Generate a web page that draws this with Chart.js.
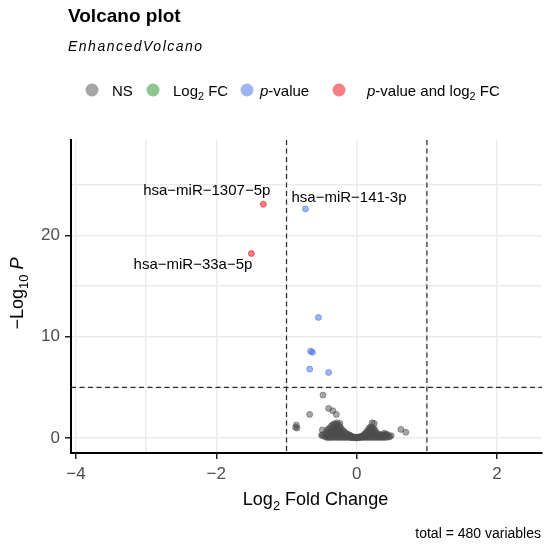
<!DOCTYPE html>
<html>
<head>
<meta charset="utf-8">
<title>Volcano plot</title>
<script src="https://cdn.jsdelivr.net/npm/chart.js@4.4.0/dist/chart.umd.min.js"></script>
<style>
  html, body { margin: 0; padding: 0; background: #fff; }
  canvas { display: block; }
</style>
</head>
<body>
<canvas id="volcano" width="550" height="545"></canvas>
<script>
// values
const xBreaks = [-4, -3, -2, -1, 0, 1, 2];
const xTickLabels = [-4, -2, 0, 2];
const yBreaks = [0, 5, 10, 15, 20, 25];
const yTickLabels = [0, 10, 20];
const fcCutoff = 1;
const pCutoff = 5;
const totalVariables = 480;

const bothNames = ['hsa−miR−1307−5p', 'hsa−miR−33a−5p'];
const bothFC = [-1.33, -1.50];
const bothP = [23.05, 18.2];

const pvalNames = ['hsa−miR−141-3p', '', '', '', '', ''];
const pvalFC = [-0.73, -0.545, -0.657, -0.63, -0.67, -0.40];
const pvalP = [22.6, 11.9, 8.57, 8.45, 6.8, 6.47];

const fcOnlyFC = [];
const fcOnlyP = [];

// [log2FC, -log10 p]
const nsPoints = [
  [-0.48, 4.24], [-0.40, 2.92], [-0.34, 2.69], [-0.29, 2.33], [-0.67, 2.33],
  [-0.86, 1.28], [-0.87, 1.05], [-0.85, 0.98], [-0.24, 1.44], [-0.32, 1.10],
  [0.25, 1.44], [0.22, 1.50], [0.63, 0.85], [0.70, 0.56], [-0.50, 0.26],
  [-0.49, 0.30], [-0.47, 0.20], [-0.49, 0.79], [-0.42, 0.79], [0.39, 0.46],
  [0.42, 0.40], [0.44, 0.30], [0.49, 0.23], [0.47, 0.15], [-0.37, 0.13],
  [-0.44, 0.10], [-0.44, 0.30], [-0.44, 0.55],
  [-0.42, 0.05], [-0.42, 0.20], [-0.42, 0.40],
  [-0.40, 0.08], [-0.40, 0.25], [-0.40, 0.60], [-0.40, 0.90],
  [-0.38, 0.05], [-0.38, 0.30], [-0.38, 0.50], [-0.38, 1.00],
  [-0.36, 0.10], [-0.36, 0.40], [-0.36, 0.70], [-0.36, 1.20],
  [-0.34, 0.05], [-0.34, 0.20], [-0.34, 0.45], [-0.34, 0.80], [-0.34, 1.30],
  [-0.32, 0.10], [-0.32, 0.35], [-0.32, 0.60], [-0.32, 0.95], [-0.32, 1.40],
  [-0.30, 0.05], [-0.30, 0.25], [-0.30, 0.50], [-0.30, 0.75], [-0.30, 1.05], [-0.30, 1.35],
  [-0.28, 0.10], [-0.28, 0.30], [-0.28, 0.55], [-0.28, 0.85], [-0.28, 1.20], [-0.28, 1.50],
  [-0.26, 0.05], [-0.26, 0.20], [-0.26, 0.45], [-0.26, 0.70], [-0.26, 1.00], [-0.26, 1.30],
  [-0.24, 0.10], [-0.24, 0.30], [-0.24, 0.55], [-0.24, 0.80], [-0.24, 1.10],
  [-0.22, 0.05], [-0.22, 0.25], [-0.22, 0.45], [-0.22, 0.70], [-0.22, 0.95],
  [-0.20, 0.10], [-0.20, 0.30], [-0.20, 0.50], [-0.20, 0.75],
  [-0.18, 0.05], [-0.18, 0.20], [-0.18, 0.40], [-0.18, 0.65],
  [-0.16, 0.10], [-0.16, 0.30], [-0.16, 0.50],
  [-0.14, 0.05], [-0.14, 0.20], [-0.14, 0.40],
  [-0.12, 0.10], [-0.12, 0.25], [-0.12, 0.35],
  [-0.10, 0.05], [-0.10, 0.15], [-0.10, 0.30],
  [-0.08, 0.05], [-0.08, 0.20],
  [-0.06, 0.02], [-0.06, 0.12],
  [-0.04, 0.05], [-0.04, 0.10],
  [-0.02, 0.02], [-0.02, 0.08],
  [0.00, 0.01], [0.00, 0.05],
  [0.02, 0.03], [0.02, 0.08],
  [0.04, 0.04], [0.04, 0.12],
  [0.06, 0.05], [0.06, 0.15],
  [0.08, 0.08], [0.08, 0.20],
  [0.10, 0.05], [0.10, 0.15], [0.10, 0.30],
  [0.12, 0.10], [0.12, 0.25], [0.12, 0.45],
  [0.14, 0.05], [0.14, 0.20], [0.14, 0.40], [0.14, 0.60],
  [0.16, 0.10], [0.16, 0.30], [0.16, 0.55], [0.16, 0.80],
  [0.18, 0.05], [0.18, 0.25], [0.18, 0.50], [0.18, 0.75], [0.18, 1.00],
  [0.20, 0.10], [0.20, 0.35], [0.20, 0.60], [0.20, 0.90], [0.20, 1.10],
  [0.22, 0.05], [0.22, 0.30], [0.22, 0.55], [0.22, 0.85], [0.22, 1.05],
  [0.24, 0.10], [0.24, 0.35], [0.24, 0.65], [0.24, 0.95],
  [0.26, 0.05], [0.26, 0.25], [0.26, 0.50], [0.26, 0.80],
  [0.28, 0.10], [0.28, 0.30], [0.28, 0.55],
  [0.30, 0.05], [0.30, 0.20], [0.30, 0.40],
  [0.32, 0.10], [0.32, 0.30],
  [0.34, 0.05], [0.34, 0.20], [0.34, 0.35],
  [0.36, 0.10], [0.36, 0.25],
  [0.38, 0.05], [0.38, 0.30],
  [0.40, 0.10], [0.40, 0.20],
  [0.42, 0.05], [0.42, 0.30],
  [0.46, 0.10]
];

const FONT = '"Liberation Sans", Arial, Helvetica, sans-serif';
const colNS = 'rgba(77, 77, 77, 0.5)';
const colFC = 'rgba(34, 139, 34, 0.5)';
const colP = 'rgba(65, 105, 225, 0.5)';
const colBoth = 'rgba(238, 0, 0, 0.5)';

function toXY(fc, p) {
  return fc.map((v, i) => ({ x: v, y: p[i] }));
}

function fmt(v) {
  return v < 0 ? '−' + Math.abs(v) : String(v);
}

// text with italic / subscript pieces
function drawRich(ctx, parts, x, y, size, align) {
  const fontFor = p => (p.italic ? 'italic ' : '') + (p.bold ? 'bold ' : '') +
    (p.sub ? size * 0.72 : size) + 'px ' + FONT;
  let w = 0;
  parts.forEach(p => { ctx.font = fontFor(p); w += ctx.measureText(p.t).width; });
  let cx = align === 'center' ? x - w / 2 : (align === 'right' ? x - w : x);
  ctx.textAlign = 'left';
  ctx.textBaseline = 'alphabetic';
  parts.forEach(p => {
    ctx.font = fontFor(p);
    ctx.fillText(p.t, cx, y + (p.sub ? size * 0.28 : 0));
    cx += ctx.measureText(p.t).width;
  });
}

const labelPlace = {
  'hsa−miR−1307−5p': { dx: 7, dy: -14, align: 'right' },
  'hsa−miR−33a−5p': { dx: 1, dy: 11, align: 'right' },
  'hsa−miR−141-3p': { dx: -14, dy: -11, align: 'left' }
};

const cutoffLines = {
  id: 'cutoffLines',
  afterDatasetsDraw(chart) {
    const { ctx, chartArea: a, scales: { x, y } } = chart;
    ctx.save();
    ctx.strokeStyle = '#2b2b2b';
    ctx.lineWidth = 1.2;
    ctx.setLineDash([5, 3.5]);
    [-fcCutoff, fcCutoff].forEach(v => {
      const px = x.getPixelForValue(v);
      ctx.beginPath(); ctx.moveTo(px, a.top); ctx.lineTo(px, a.bottom); ctx.stroke();
    });
    const py = y.getPixelForValue(pCutoff);
    ctx.beginPath(); ctx.moveTo(a.left, py); ctx.lineTo(a.right, py); ctx.stroke();
    ctx.restore();
  }
};

const pointLabels = {
  id: 'pointLabels',
  afterDatasetsDraw(chart) {
    const { ctx } = chart;
    ctx.save();
    ctx.fillStyle = '#000';
    ctx.font = '15px ' + FONT;
    ctx.textBaseline = 'middle';
    chart.data.datasets.forEach((ds, di) => {
      if (!ds.names) return;
      const meta = chart.getDatasetMeta(di);
      ds.names.forEach((name, i) => {
        if (!name) return;
        const pl = labelPlace[name];
        const pt = meta.data[i];
        ctx.textAlign = pl.align;
        ctx.fillText(name, pt.x + pl.dx, pt.y + pl.dy);
      });
    });
    ctx.restore();
  }
};

const decorations = {
  id: 'decorations',
  afterDraw(chart) {
    const { ctx, chartArea: a } = chart;
    ctx.save();
    ctx.fillStyle = '#000';

    // title + subtitle
    ctx.font = 'bold 19px ' + FONT;
    ctx.textAlign = 'left';
    ctx.textBaseline = 'alphabetic';
    ctx.fillText('Volcano plot', 68, 22);
    ctx.font = 'italic 14px ' + FONT;
    if ('letterSpacing' in ctx) ctx.letterSpacing = '1.5px';
    ctx.fillText('EnhancedVolcano', 68, 51);
    if ('letterSpacing' in ctx) ctx.letterSpacing = '0px';

    // legend
    const items = [
      [{ t: 'NS' }],
      [{ t: 'Log' }, { t: '2', sub: true }, { t: ' FC' }],
      [{ t: 'p', italic: true }, { t: '-value' }],
      [{ t: 'p', italic: true }, { t: '-value and log' }, { t: '2', sub: true }, { t: ' FC' }]
    ];
    const keyX = [92, 153, 247, 339];
    const textX = [112, 173, 260, 367];
    const legendY = 90;
    chart.data.datasets.forEach((ds, i) => {
      ctx.beginPath();
      ctx.arc(keyX[i], legendY, 6.5, 0, Math.PI * 2);
      ctx.fillStyle = ds.backgroundColor;
      ctx.fill();
      ctx.fillStyle = '#000';
      drawRich(ctx, items[i], textX[i], legendY + 5.5, 15, 'left');
    });

    // axis titles
    drawRich(ctx, [{ t: 'Log' }, { t: '2', sub: true }, { t: ' Fold Change' }],
      (a.left + a.right) / 2 + 9, 505, 18, 'center');
    ctx.save();
    ctx.translate(23, (a.top + a.bottom) / 2 - 3);
    ctx.rotate(-Math.PI / 2);
    drawRich(ctx, [{ t: '−Log' }, { t: '10', sub: true }, { t: ' ' }, { t: 'P', italic: true }],
      0, 0, 18, 'center');
    ctx.restore();

    // caption
    ctx.font = '14px ' + FONT;
    ctx.textAlign = 'right';
    ctx.fillText('total = ' + totalVariables + ' variables', 541, 538);
    ctx.restore();
  }
};

new Chart(document.getElementById('volcano'), {
  type: 'scatter',
  data: {
    datasets: [
      { label: 'NS', data: nsPoints.map(p => ({ x: p[0], y: p[1] })),
        backgroundColor: colNS, borderColor: colNS, order: 3 },
      { label: 'Log2 FC', data: toXY(fcOnlyFC, fcOnlyP),
        backgroundColor: colFC, borderColor: colFC, order: 2 },
      { label: 'p-value', data: toXY(pvalFC, pvalP), names: pvalNames,
        backgroundColor: colP, borderColor: colP, order: 1 },
      { label: 'p-value and log2 FC', data: toXY(bothFC, bothP), names: bothNames,
        backgroundColor: colBoth, borderColor: colBoth, order: 0 }
    ]
  },
  options: {
    responsive: false,
    animation: false,
    events: [],
    layout: { padding: { top: 140, right: 8, left: 0, bottom: 0 } },
    elements: { point: { radius: 3, borderWidth: 1 } },
    plugins: { legend: { display: false }, tooltip: { enabled: false } },
    scales: {
      x: {
        type: 'linear',
        min: -4.07,
        max: 2.64,
        afterBuildTicks: s => { s.ticks = xBreaks.map(v => ({ value: v })); },
        afterFit: s => { s.height = 92; },
        grid: {
          color: '#ebebeb', lineWidth: 1.5, tickLength: 6, tickWidth: 1.5,
          tickColor: c => (c.tick && xTickLabels.includes(c.tick.value)) ? '#222' : 'rgba(0,0,0,0)'
        },
        border: { display: true, color: '#000', width: 2 },
        ticks: {
          autoSkip: false, maxRotation: 0, padding: 5, color: '#4d4d4d',
          font: { family: FONT, size: 17 },
          callback: v => xTickLabels.includes(v) ? fmt(v) : ''
        }
      },
      y: {
        type: 'linear',
        min: -1.48,
        max: 29.4,
        afterBuildTicks: s => { s.ticks = yBreaks.map(v => ({ value: v })); },
        afterFit: s => { s.width = 71; },
        grid: {
          color: '#ebebeb', lineWidth: 1.5, tickLength: 6, tickWidth: 1.5,
          tickColor: c => (c.tick && yTickLabels.includes(c.tick.value)) ? '#222' : 'rgba(0,0,0,0)'
        },
        border: { display: true, color: '#000', width: 2 },
        ticks: {
          autoSkip: false, padding: 5, color: '#4d4d4d',
          font: { family: FONT, size: 17 },
          callback: v => yTickLabels.includes(v) ? fmt(v) : ''
        }
      }
    }
  },
  plugins: [cutoffLines, pointLabels, decorations]
});
</script>
</body>
</html>
